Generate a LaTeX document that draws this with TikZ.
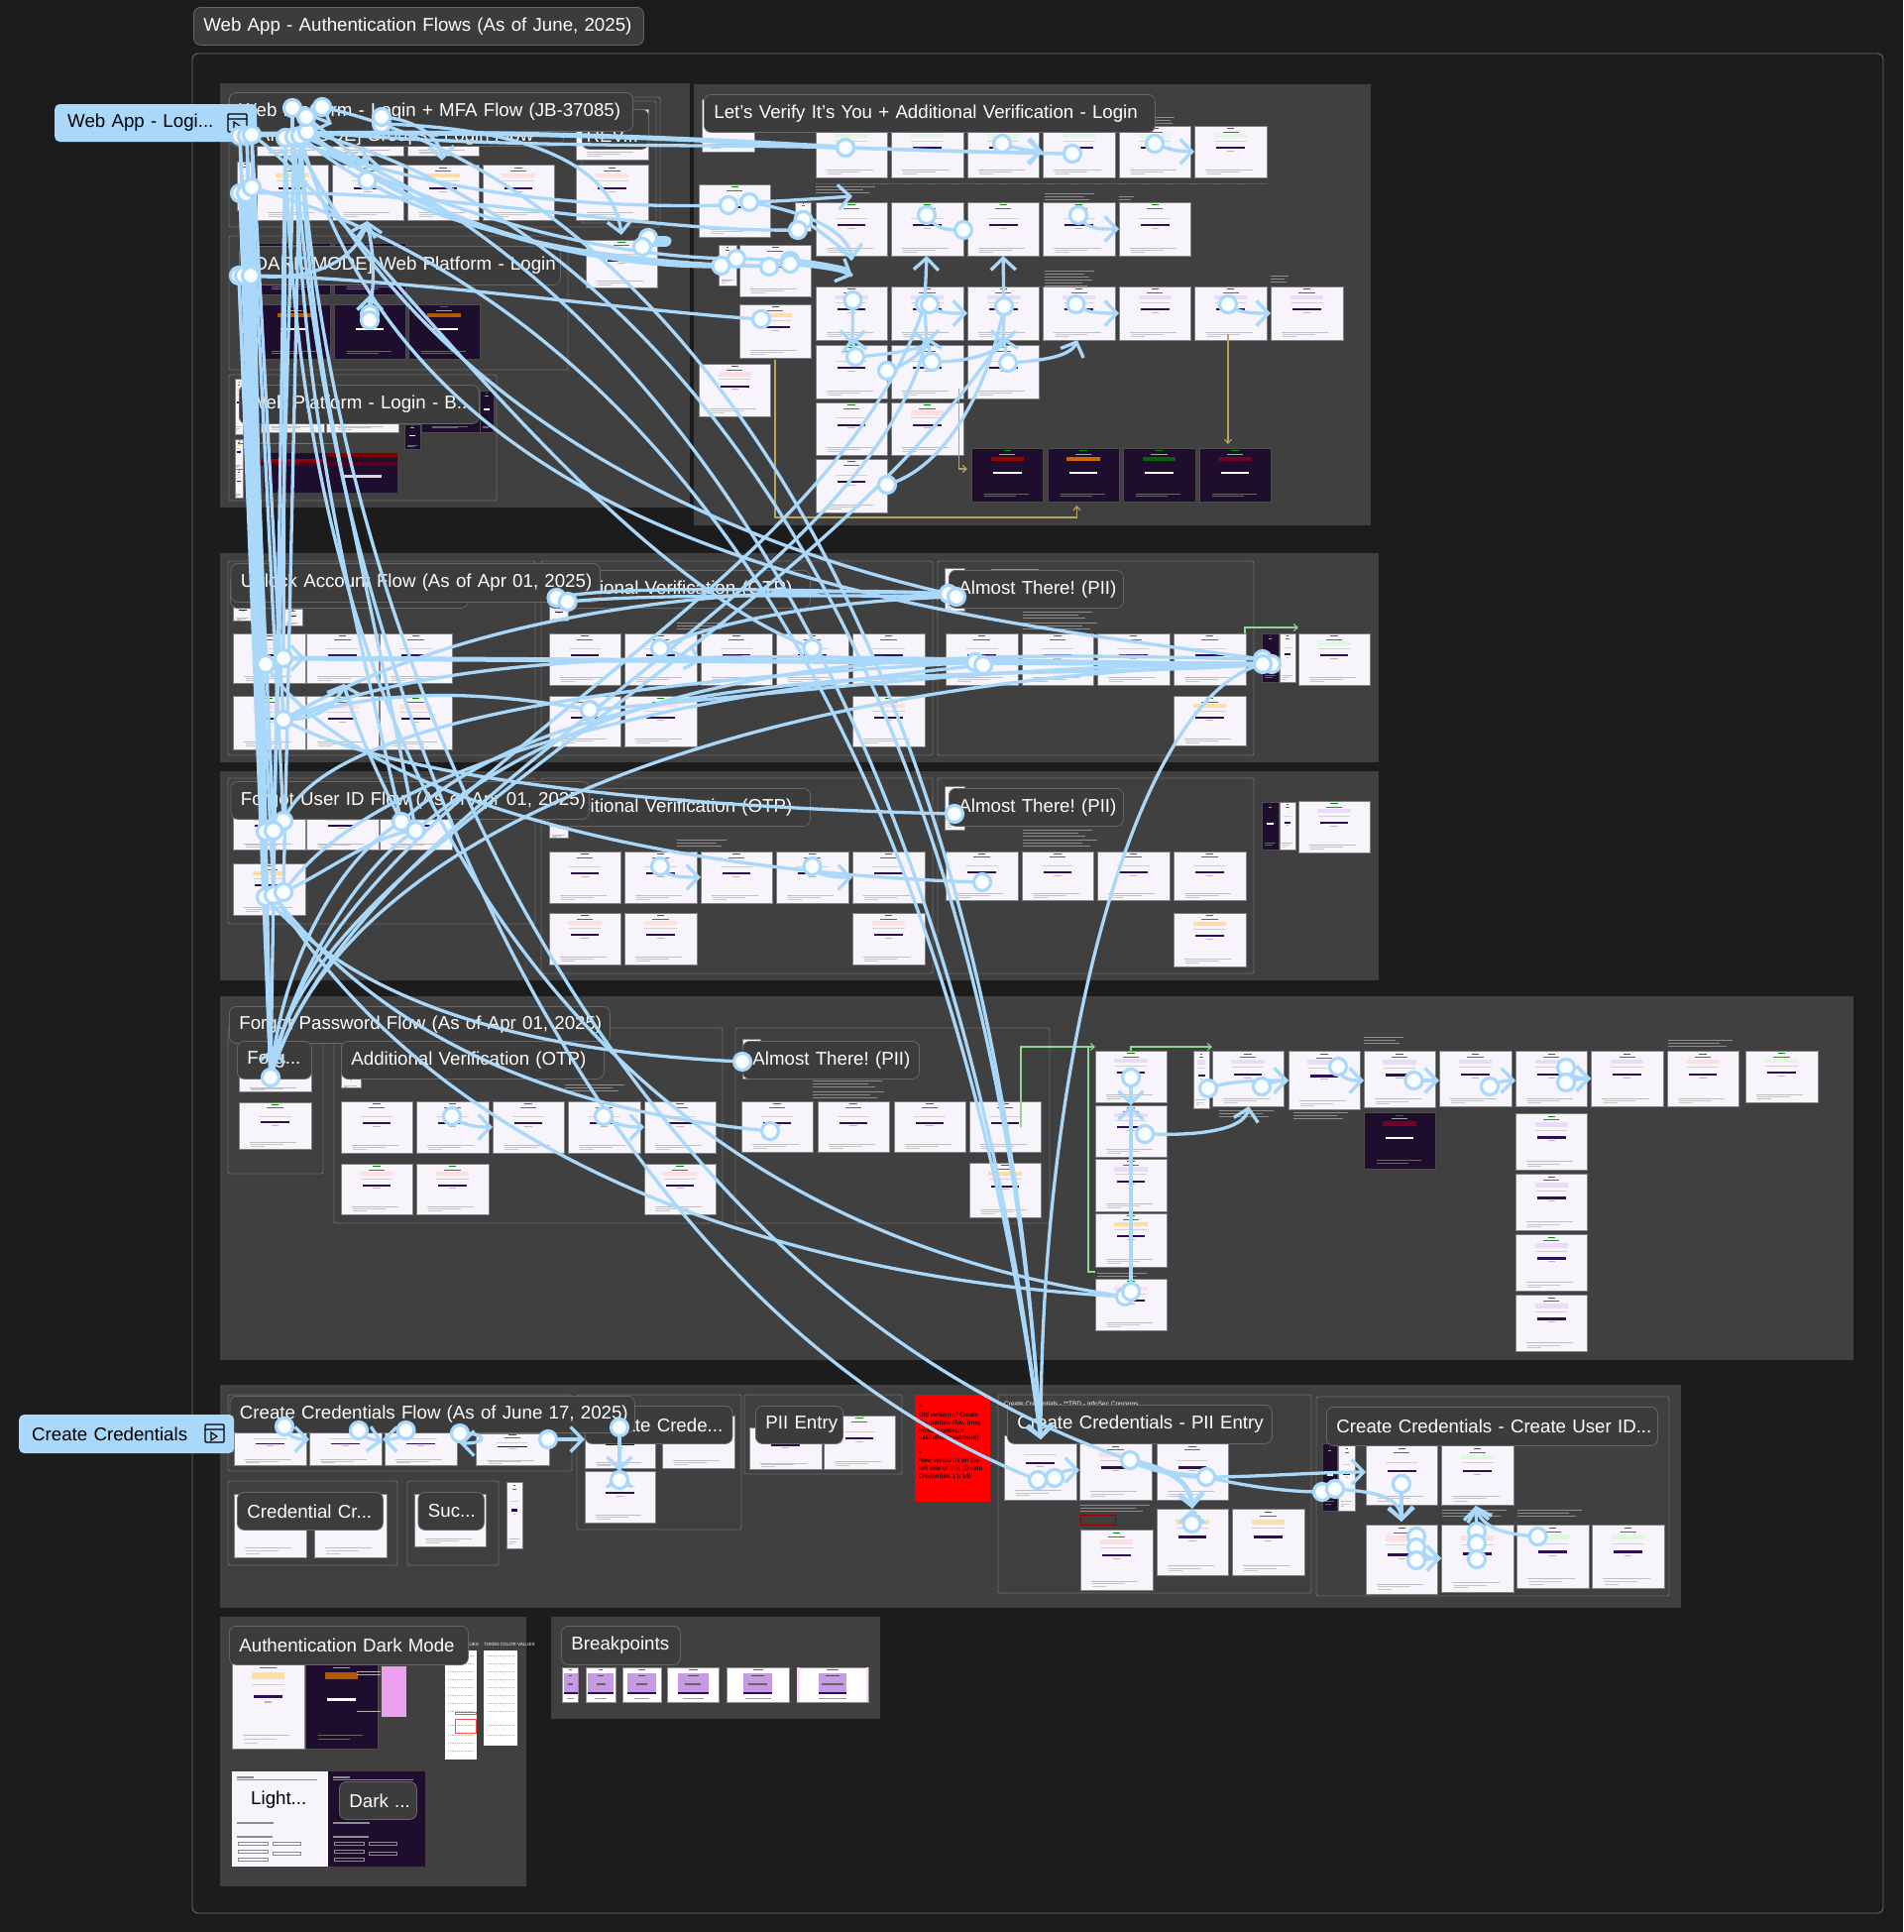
\documentclass[tikz,border=0pt]{standalone}
\usepackage{fontspec}
\setmainfont{Liberation Sans}
\newfontfamily\notefont{Carlito}
\usetikzlibrary{arrows.meta}
\frenchspacing
\definecolor{bg}{HTML}{1C1C1C}
\definecolor{sec}{HTML}{404040}
\definecolor{frm}{HTML}{6A6A6A}
\definecolor{labf}{HTML}{3C3C3C}
\definecolor{lbl}{HTML}{A9D8FA}
\definecolor{scf}{HTML}{F7F4FB}
\definecolor{pbar}{HTML}{2C0F4F}
\definecolor{dscf}{HTML}{1F0D2E}
\definecolor{grn}{HTML}{8FD694}
\definecolor{gld}{HTML}{B8A45E}
\definecolor{bnO}{HTML}{FFDDA8}
\definecolor{bnG}{HTML}{E2F7E2}
\definecolor{bnR}{HTML}{FFDEDE}
\definecolor{bnP}{HTML}{E9DCF9}
\definecolor{bpurple}{HTML}{C79BE3}
\definecolor{pink}{HTML}{EBA0F0}
\tikzset{
  section/.style={fill=sec,draw=none},
  frameline/.style={draw=frm,line width=.9pt,rounded corners=2pt},
  labelbox/.style={fill=labf,draw=white!22!labf,line width=.8pt,rounded corners=7pt,text=white,inner xsep=10pt,inner ysep=0pt,align=left,font=\fontsize{18.7}{22}\selectfont},
  tabnode/.style={fill=lbl,rounded corners=5pt,text=black,anchor=west,inner xsep=0pt,inner ysep=0pt,font=\fontsize{18.7}{22}\selectfont},
  link/.style={draw=lbl,line width=3.3pt},
  thick link/.style={draw=lbl,line width=5pt},
  arw/.style={-{Straight Barb[length=12pt,width=25pt]}},
  hand/.style={circle,fill=white!94!lbl,draw=lbl,line width=3.2pt,minimum size=17pt,inner sep=0pt},
  thin arrow/.style={line width=1.1pt,-{Straight Barb[length=4pt,width=7pt]}},
  annot/.style={draw=white!55!black,line width=.5pt},
}
\makeatletter
\def\dotlist{}
\newcommand\hd[3]{\coordinate (#1) at (#2,#3);\g@addto@macro\dotlist{\node[hand] (d#1) at (#1) {};}}
\makeatother
\newcommand\tg[3]{\coordinate (#1) at (#2,#3);}
\newcommand\lk[4][]{\draw[link,#1] (#2) .. controls #3 .. (#4);}
\newcommand\ls[3][]{\draw[link,#1] (#2) -- (#3);}
% light screen: [banner]{x1}{y1}{x2}{y2}
\newcommand\scr[5][scf]{%
  \pgfmathsetmacro\scW{#4-#2}\pgfmathsetmacro\scH{#5-#3}%
  \begin{scope}[shift={(#2,#3)},x=\scW pt,y=-\scH pt]
    \fill[scf] (0,0) rectangle (1,1);
    \draw[black!50,line width=.5pt] (0,0) rectangle (1,1);
    \fill[green!55!black] (.45,.045) rectangle (.55,.058);
    \fill[black!60] (.39,.11) rectangle (.61,.122);
    \fill[#1] (.27,.16) rectangle (.73,.24);
    \fill[black!18] (.28,.29) rectangle (.72,.305);
    \fill[pbar] (.3,.41) rectangle (.7,.45);
    \fill[black!28] (.45,.48) rectangle (.55,.495);
    \fill[black!25] (.15,.85) rectangle (.8,.86);
    \fill[black!22] (.17,.89) rectangle (.62,.90);
    \fill[black!22] (.17,.93) rectangle (.36,.94);
  \end{scope}}
\newcommand\dsc[5][dscf]{%
  \pgfmathsetmacro\scW{#4-#2}\pgfmathsetmacro\scH{#5-#3}%
  \begin{scope}[shift={(#2,#3)},x=\scW pt,y=-\scH pt]
    \fill[dscf] (0,0) rectangle (1,1);
    \draw[black!70,line width=.5pt] (0,0) rectangle (1,1);
    \fill[green!60!black] (.45,.045) rectangle (.55,.06);
    \fill[white!65!black] (.39,.11) rectangle (.61,.122);
    \fill[#1] (.27,.16) rectangle (.73,.24);
    \fill[white] (.3,.44) rectangle (.7,.48);
    \fill[black!60] (.18,.85) rectangle (.8,.86);
    \fill[black!60] (.18,.89) rectangle (.62,.90);
  \end{scope}}
% breakpoint screen: [inner left margin]{x1}{y1}{x2}{y2}
\newcommand\bps[5][.07]{%
  \pgfmathsetmacro\scW{#4-#2}\pgfmathsetmacro\scH{#5-#3}\pgfmathsetmacro\bpR{1-#1}%
  \begin{scope}[shift={(#2,#3)},x=\scW pt,y=-\scH pt]
    \fill[white] (0,0) rectangle (1,1);
    \draw[black!45,line width=.5pt] (0,0) rectangle (1,1);
    \fill[black!65] (.42,.06) rectangle (.58,.09);
    \fill[bpurple] (#1,.18) rectangle (\bpR,.76);
    \fill[black!70] (.4,.22) rectangle (.6,.25);
    \fill[black!60] (.35,.46) rectangle (.65,.52);
    \fill[pbar] (#1,.72) rectangle (\bpR,.78);
    \fill[black!40] (.3,.88) rectangle (.7,.91);
  \end{scope}}
\newcommand\lab[6]{\pgfmathsetmacro\lbW{#4-#2}\pgfmathsetmacro\lbH{#5-#3}\pgfmathsetmacro\lbT{#4-#2-20}%
  \node[labelbox,minimum height=\lbH pt,text width=\lbT pt,anchor=north west] (#1) at (#2,#3) {\raisebox{-3pt}{\mbox{#6}}};}
\newcommand\frm[4]{\draw[frameline] (#1,#2) rectangle (#3,#4);}
\newcommand\ann[3]{\draw[annot] (#1,#2) -- ++(#3,0); \draw[annot] (#1,#2+3) -- ++(#3*.8,0); \draw[annot] (#1,#2+6) -- ++(#3*.9,0);}
\begin{document}
\begin{tikzpicture}[x=1pt,y=-1pt]
\useasboundingbox (0,0) rectangle (1920,1949);
\fill[bg] (0,0) rectangle (1920,1949);
% outer board
\draw[frm,line width=.9pt,rounded corners=6pt] (194,54) rectangle (1900,1930);
\lab{ltitle}{195}{7}{649}{45}{Web App - Authentication Flows (As of June, 2025)}
% sections
\fill[section] (222,84) rectangle (696,512);
\fill[section] (700,85) rectangle (1383,530);
\fill[section] (222,558) rectangle (1391,769);
\fill[section] (222,778) rectangle (1391,989);
\fill[section] (222,1005) rectangle (1870,1372);
\fill[section] (222,1397) rectangle (1696,1622);
\fill[section] (222,1631) rectangle (531,1903);
\fill[section] (556,1631) rectangle (888,1734);
% frames
\frm{231}{98}{666}{229}\frm{587}{102}{662}{225}
\frm{231}{238}{573}{373}\frm{231}{378}{501}{505}
\frm{230}{566}{540}{762}\frm{546}{566}{941}{762}\frm{946}{566}{1265}{762}
\frm{230}{785}{540}{932}\frm{546}{785}{941}{982}\frm{946}{785}{1265}{982}
\frm{230}{1037}{326}{1184}\frm{337}{1037}{729}{1234}\frm{742}{1037}{1059}{1234}
\frm{230}{1407}{577}{1484}\frm{582}{1407}{748}{1543}\frm{751}{1407}{910}{1487}
\frm{230}{1494}{401}{1579}\frm{411}{1494}{503}{1579}
\frm{1007}{1407}{1323}{1607}\frm{1328}{1409}{1684}{1610}
% section A screens
\foreach \a/\b in {259/331,335/407,411/483}{\scr{\a}{120}{\b}{157}}
\scr{239}{163}{255}{212}
\scr[bnO]{259}{166}{331}{222}\scr[bnR]{335}{166}{407}{222}\scr[bnO]{411}{166}{483}{222}\scr[bnR]{487}{166}{559}{222}\scr[bnR]{581}{166}{654}{222}
\scr{581}{110}{654}{161}\scr{591}{242}{663}{290}
\foreach \a/\b in {261/333,337/409}{\dsc{\a}{245}{\b}{297}}
\dsc[orange!70!black]{261}{307}{333}{362}\dsc{337}{307}{409}{362}\dsc[orange!70!black]{412}{307}{484}{362}
\scr[bnO]{237}{382}{245}{438}\scr[bnO]{237}{443}{245}{473}\scr[bnP]{237}{473}{245}{502}
\scr{263}{395}{327}{436}\scr{329}{395}{402}{436}
\dsc{425}{395}{484}{436}\dsc{484}{394}{498}{436}\dsc{408}{428}{424}{453}
\fill[dscf] (266,457) rectangle (401,497);
\fill[red!50!black] (330,457) rectangle (401,461);
\fill[red!60!black] (262,463) rectangle (330,466);
\fill[purple!45!black] (262,466) rectangle (401,470);
\fill[white!85!black] (345,479) rectangle (385,482);
\draw[black!55,line width=.6pt] (240,447) -- (337,447);
% section B screens
\scr{708}{100}{761}{153}
\foreach \a/\b in {823/895,899/972,976/1048.5,1052.5/1125,1129/1201.6,1205.6/1278}{\scr[bnG]{\a}{127}{\b}{179}}
\foreach \a/\b in {823/895,899/972,976/1048.5,1052.5/1125,1129/1201.6}{\scr{\a}{204}{\b}{258}}
\foreach \a/\b in {823/895,899/972,976/1048.5,1052.5/1125,1129/1201.6,1205.6/1278,1282/1355}{\scr[bnP]{\a}{289}{\b}{343}}
\foreach \a/\b in {823/895,899/972,976/1048.5}{\scr{\a}{348}{\b}{402}}
\scr{823}{406}{895}{459}\scr[bnR]{899}{406}{972}{459}\scr{823}{463}{895}{517}
\dsc[red!60!black]{980}{452}{1052.5}{506}\dsc[orange!80!black]{1057}{452}{1129}{506}\dsc[green!40!black]{1133}{452}{1206}{506}\dsc[purple!60!black]{1210}{452}{1282}{506}
\scr{705}{186}{777.5}{239}\scr{802.5}{204}{818.6}{233}\scr{725}{247}{743.6}{288}\scr{746}{247}{818.6}{299}
\scr[bnO]{746}{307}{818.6}{361}\scr[bnR]{705}{367}{777.5}{420}
\draw[frm,line width=.5pt,densely dotted] (823,185) -- (1278,185);
\ann{823}{188}{60}\ann{1054}{195}{50}\ann{1129}{198}{15}\ann{1054}{273}{50}\ann{1054}{282}{48}\ann{1282}{278}{18}\ann{1165}{118}{20}
% gold lines
\draw[gld,thin arrow] (782,363) -- (782,522) -- (1086.4,522) -- (1086.4,510);
\draw[gld,thin arrow] (967.7,392) -- (967.7,473) -- (976,473);
\draw[gld,thin arrow] (1239,337) -- (1239,448);
% section C
\foreach \a/\b in {235.6/308,309/382,383/456}{\scr{\a}{639}{\b}{689}\scr[bnR]{\a}{702}{\b}{756}}
\scr{235.6}{607}{255}{626}\scr{286}{614}{305}{631}\scr{554}{610}{573.6}{626}
\foreach \a/\b in {554/626,630/703,707/779,783/856,860/933}{\scr{\a}{639}{\b}{691}}
\foreach \a/\b in {554/626,630/703,860/933}{\scr[bnR]{\a}{702}{\b}{753}}
\scr{953}{573}{973}{616}
\foreach \a/\b in {954/1027,1031/1103,1107/1180,1184/1257}{\scr{\a}{639}{\b}{691}}
\scr[bnO]{1184}{702}{1257}{752}
\dsc{1273}{639}{1290}{688}\scr{1291}{639}{1307}{688}\scr[bnG]{1310}{639}{1382}{691}
\ann{1032}{617}{70}\ann{1032}{628}{75}\ann{1000}{574}{48}
\ann{683}{628}{50}
\draw[grn,thin arrow] (1256,639) -- (1256,633) -- (1310,633);
% section D
\foreach \a/\b in {235.6/308,309/382,383/456}{\scr{\a}{815}{\b}{857}}
\scr[bnO]{235.6}{871}{308}{923}
\foreach \a/\b in {554/626,630/703,707/779,783/856,860/933}{\scr{\a}{859}{\b}{911}}
\foreach \a/\b in {554/626,630/703,860/933}{\scr[bnR]{\a}{921}{\b}{973}}
\scr{554}{825}{573.6}{845}\scr{953}{793}{973}{837}
\foreach \a/\b in {954/1027,1031/1103,1107/1180,1184/1257}{\scr{\a}{859}{\b}{908}}
\scr[bnO]{1184}{921}{1257}{975}
\dsc{1273}{809}{1290}{857}\scr{1291}{809}{1307}{857}\scr[bnP]{1310}{808}{1382}{860}
\ann{1032}{837}{70}\ann{1032}{847}{75}\ann{683}{847}{50}
% section E
\scr{241}{1075}{314}{1101}\scr{241}{1112}{314}{1159}\scr{344}{1081}{364}{1097}\scr{749}{1048}{767}{1088}
\foreach \a/\b in {344/416,420/493,497/569,573/646,650/722}{\scr{\a}{1111}{\b}{1163}}
\foreach \a/\b in {344/416,420/493,650/722}{\scr[bnR]{\a}{1174}{\b}{1225}}
\foreach \a/\b in {748/820,825/897,902/974,978/1050}{\scr{\a}{1111}{\b}{1162}}
\scr[bnO]{978}{1173}{1050}{1228}
\ann{570}{1094}{60}\ann{820}{1090}{70}\ann{820}{1101}{72}
\scr[bnP]{1105}{1060}{1177}{1112}\scr[bnP]{1105}{1115}{1177}{1167}\scr[bnP]{1105}{1169}{1177}{1222}\scr[bnO]{1105}{1224}{1177}{1278}\scr[bnR]{1105}{1290}{1177}{1342}
\scr[bnP]{1204}{1060}{1220.5}{1118}\scr[bnP]{1223}{1060}{1295}{1116}\scr[bnP]{1300}{1060}{1372}{1119}\scr[bnP]{1376}{1060}{1448}{1117}
\dsc[purple!60!black]{1376}{1122}{1448}{1179}
\foreach \a/\b in {1452/1525,1529/1601.6,1605.5/1678}{\scr[bnP]{\a}{1060}{\b}{1116}}
\scr[bnR]{1682}{1060}{1754}{1116}\scr[bnG]{1761}{1060}{1834}{1112}
\foreach \a/\b in {1123/1180,1184/1241,1245/1302,1306/1363}{\scr[bnP]{1529}{\a}{1601.6}{\b}}
\ann{1230}{1120}{55}\ann{1305}{1122}{55}\ann{1376}{1046}{40}\ann{1683}{1049}{65}\ann{1107}{1284}{50}
\draw[grn,thin arrow] (1030,1137) -- (1030,1056) -- (1105,1056);
\draw[grn,line width=1.1pt] (1098,1056) -- (1098,1283) -- (1105,1283);
\draw[grn,thin arrow] (1141,1060) -- (1141,1056) -- (1223,1056);
% section F
\foreach \a/\b in {236/309,312/385,388/461}{\scr{\a}{1440}{\b}{1478}}
\scr{480}{1446}{554}{1478}
\scr{590}{1440}{661}{1481}\scr{668}{1428}{741}{1481}\scr{590}{1484}{661}{1536}
\scr{756}{1440}{829}{1482}\scr{831}{1428}{903}{1482}
\scr{236}{1507}{309}{1571}\scr{317}{1507}{390}{1571}\scr{418}{1507}{490}{1560}
\scr{511}{1495}{527}{1562}
\fill[red] (922.5,1407) rectangle (998.5,1515);
\foreach \t/\yy in {{>}/1419,{Old version of Create}/1427,{Credentials Flow (may}/1435,{include relevant}/1443,{validation treatment)}/1450,{<}/1466,{New version is on the}/1473,{left side of this (Create}/1481,{Credentials 11/14)}/1489}{
  \node[anchor=west,inner sep=0pt,text=black,font=\notefont\fontsize{7}{8}\selectfont] (rn\yy) at (927,\yy) {\t};}
% create creds PII
\node[anchor=west,inner sep=0pt,text=white,font=\fontsize{6.5}{8}\selectfont] (tbd) at (1013,1416) {Create Credentials - **TBD - InfoSec Concerns};
\scr{1013}{1448}{1086}{1513}\scr[bnR]{1089}{1456}{1162}{1513}\scr{1167}{1456}{1239}{1513}
\scr[bnO]{1167}{1522}{1239}{1589}\scr[bnO]{1243}{1522}{1316}{1589}\scr[bnR]{1090}{1543}{1163}{1604}
\ann{1090}{1518}{70}
\draw[red!60!black,line width=.5pt] (1090,1528) rectangle (1125,1538);
\dsc{1334}{1456}{1349}{1524}\scr{1350.5}{1458}{1367}{1524}\scr{1378}{1458}{1450.5}{1518}\scr[bnG]{1454.6}{1458}{1527}{1518}
\scr[bnR]{1378}{1538}{1450.5}{1608}\scr[bnR]{1454.6}{1538}{1527}{1606}\scr[bnG]{1530.6}{1538}{1603}{1602}\scr[bnG]{1606.6}{1538}{1679}{1602}
\ann{1455}{1523}{65}\ann{1531}{1523}{65}
% section G
\scr[bnO]{234}{1672}{307}{1764}\dsc[orange!70!black]{308}{1672}{381}{1764}
\fill[pink] (384.5,1681) rectangle (409.6,1732);
\draw[white!70!black,line width=.9pt] (360,1686) -- (384,1686);\draw[white!70!black,line width=.9pt] (360,1689) -- (384,1689);\draw[white!70!black,line width=.9pt] (360,1726) -- (384,1726);
\fill[white] (449,1665) rectangle (480.5,1775);
\fill[white] (488,1665) rectangle (522,1761);
\foreach \yy in {1670,1678,1686,1694,1702,1710,1718,1726,1740,1750,1758,1766}{\draw[black!30,line width=.8pt,densely dotted] (452,\yy) -- (478,\yy);}
\foreach \yy in {1670,1678,1686,1694,1702,1710,1718,1726,1740,1750}{\draw[black!30,line width=.8pt,densely dotted] (491,\yy) -- (519,\yy);}
\draw[red!70,line width=.7pt] (459,1727) rectangle (480.5,1729.5);
\draw[red!70,line width=.7pt] (459,1734) rectangle (480.5,1748);
\node[anchor=east,inner sep=0pt,text=white,font=\fontsize{4.5}{5}\selectfont] (tv1) at (483,1659) {VALUES};
\node[anchor=west,inner sep=0pt,text=white,font=\fontsize{4.5}{5}\selectfont] (tv2) at (488,1659) {TOKEN COLOR VALUES};
\fill[scf] (234,1787) rectangle (331.4,1883);
\fill[dscf] (331.4,1787) rectangle (429,1883);
\foreach \o/\cc in {0/black!45,97.4/white!55!black}{
  \begin{scope}[xshift=\o pt]
  \fill[\cc] (239,1792) rectangle (256,1793.5);\fill[\cc] (239,1795) rectangle (320,1795.6);
  \fill[\cc] (239,1838) rectangle (276,1839.5);\fill[\cc] (239,1852) rectangle (275,1853.5);
  \draw[\cc,line width=.5pt] (240,1858) rectangle (270,1861);\draw[\cc,line width=.5pt] (240,1866) rectangle (270,1869);\draw[\cc,line width=.5pt] (240,1874) rectangle (270,1877);
  \draw[\cc,line width=.5pt] (275,1858) rectangle (303,1861);\draw[\cc,line width=.5pt] (275,1868) rectangle (303,1871);
  \end{scope}}
% breakpoints
\bps{567.6}{1682}{583.7}{1717}\bps{591}{1682}{621}{1717}\bps[.13]{628}{1682}{667}{1717}\bps[.2]{673}{1682}{725.6}{1717}\bps[.27]{733}{1682}{796.6}{1717}\bps[.3]{804}{1682}{876}{1717}
\fill[white!60!pink] (804,1682) rectangle (806.5,1717);
\fill[white!60!pink] (873.5,1682) rectangle (876,1717);
% labels
\lab{lmfa3}{587}{110}{654}{150}{}
\node[anchor=west,inner sep=0pt,text=white,font=\fontsize{18.7}{22}\selectfont] (lmfat) at (580,137) {- REV...};
\lab{lmfa2}{231}{118}{568}{147}{}
\node[anchor=west,inner sep=0pt,text=white,font=\fontsize{18.7}{22}\selectfont] (lmfas) at (241,138) {[DARK MODE] Groups - Login Flow};
\lab{lmfa}{231}{93}{638}{132}{Web Platform - Login + MFA Flow (JB-37085)}
\lab{ldark}{241}{248}{565}{287}{[DARK MODE] Web Platform - Login}
\lab{lback}{241}{388}{483}{427}{Web Platform - Login - B...}
\lab{lverify}{710}{95}{1165}{133}{Let's Verify It's You + Additional Verification - Login}
\lab{lub}{232}{580}{472}{613}{}
\lab{lotp}{552}{575}{817}{613}{Additional Verification (OTP)}
\lab{lunlock}{232.5}{568}{605}{607}{Unlock Account Flow (As of Apr 01, 2025)}
\lab{lpii}{957}{575}{1133}{613}{Almost There! (PII)}
\lab{lotpb}{552}{795}{817}{833}{Additional Verification (OTP)}
\lab{lfid}{232.5}{788}{594}{826}{Forgot User ID Flow (As of Apr 01, 2025)}
\lab{lpiib}{957}{795}{1133}{833}{Almost There! (PII)}
\lab{lfpw}{231}{1015}{615}{1052}{Forgot Password Flow (As of Apr 01, 2025)}
\lab{lforg}{239}{1050}{314}{1088}{Forg...}
\lab{lotpc}{344}{1050}{609}{1088}{Additional Verification (OTP)}
\lab{lpiic}{749}{1050}{927}{1088}{Almost There! (PII)}
\lab{lcrede}{590}{1418}{738.5}{1456}{Create Crede...}
\lab{lpe}{762}{1418}{850}{1456}{PII Entry}
\lab{lccf}{231.5}{1408}{640}{1445}{Create Credentials Flow (As of June 17, 2025)}
\lab{lcr}{239}{1505}{386}{1543}{Credential Cr...}
\lab{lsuc}{421.5}{1505}{488}{1543}{Suc...}
\lab{lcpii}{1016}{1417}{1283}{1456}{Create Credentials - PII Entry}
\lab{lcuid}{1338}{1419}{1672}{1458}{Create Credentials - Create User ID...}
\lab{lauth}{231}{1640}{472}{1679}{Authentication Dark Mode}
\lab{lbp}{566}{1640}{686}{1679}{Breakpoints}
\node[text=black,anchor=west,inner sep=0pt,font=\fontsize{18.7}{22}\selectfont] (llight) at (253,1816) {Light...};
\lab{ldm}{342}{1797}{420}{1835}{Dark ...}
% tabs
\node[tabnode,minimum width=204pt,minimum height=38pt,text width=204pt] (tabA) at (55,124) {\hspace*{13pt}\raisebox{-2.5pt}{Web App - Logi...}};
\node[tabnode,minimum width=217pt,minimum height=39pt,text width=217pt] (tabB) at (19,1446.5) {\hspace*{13pt}\raisebox{-.5pt}{Create Credentials}};
\draw[black,line width=1.3pt,rounded corners=1pt] (230,115) rectangle (249,133) (230,120) -- (249,120);
\draw[black,line width=1.3pt,rounded corners=1pt] (207,1437) rectangle (226,1455) (207,1442) -- (226,1442);
\draw[black,line width=1.1pt] (236,123) -- (242,127) -- (236,131) -- cycle;
\draw[black,line width=1.1pt] (213,1445) -- (219,1449) -- (213,1453) -- cycle;
% handles
\hd{aA}{242}{137}\hd{aB}{249}{137}\hd{aC}{254}{136}\hd{aD}{288}{139}\hd{aE}{297}{138}\hd{aF}{303}{137}\hd{aG}{310}{133}
\hd{aH}{295}{109}\hd{aI}{325}{108}\hd{aJ}{309}{118}\hd{aK}{385}{125}\hd{aL}{385}{118}
\hd{bA}{242}{195}\hd{bB}{248}{195}\hd{bC}{254}{189}\hd{bD}{370.5}{182}
\hd{cA}{241}{278}\hd{cB}{246}{278}\hd{cC}{253}{278}\hd{cD}{373}{317}\hd{cE}{373}{323}
\hd{eA}{654}{240}\hd{eB}{648}{249}
\hd{rA}{853}{149}\hd{rB}{1011}{145}\hd{rC}{1082}{155}\hd{rD}{1165}{145}
\hd{sA}{735}{207}\hd{sB}{756}{204}\hd{sC}{810.5}{222}\hd{sD}{805}{232}
\hd{uA}{727.5}{268}\hd{uB}{743}{261}\hd{uC}{776}{269}\hd{uD}{797}{263}\hd{uE}{797}{266}\hd{uF}{768}{322}
\hd{vA}{860.5}{303}\hd{vB}{933}{307}\hd{vC}{938}{307}\hd{vD}{1013}{309}\hd{vE}{1085.5}{307}\hd{vF}{1239}{307}
\hd{wA}{935}{217}\hd{wB}{972}{232}\hd{wC}{1088}{217}
\hd{xA}{863}{360}\hd{xB}{940}{365}\hd{xC}{1017}{366}\hd{xD}{895}{374}\hd{xE}{895}{489}
\hd{gA}{561.5}{603}\hd{gB}{572.7}{607}\hd{gC}{268}{670}\hd{gD}{286}{664}\hd{gE}{286}{726}\hd{gF}{666}{654}\hd{gG}{819.5}{654}\hd{gH}{595}{716}
\hd{hA}{268}{839}\hd{hB}{286}{828}\hd{hC}{276}{838}\hd{hD}{405}{829}\hd{hE}{419.5}{838}\hd{hF}{268}{905}\hd{hG}{276}{903}\hd{hH}{286}{900}\hd{hI}{666}{874}\hd{hJ}{819.5}{874}
\hd{iA}{957}{599}\hd{iB}{965}{602}\hd{iC}{984}{668}\hd{iD}{992}{671}\hd{iE}{1274}{665}\hd{iF}{1283}{670}\hd{iG}{1274}{670}\hd{iH}{963}{821}\hd{iI}{991}{890}
\hd{fA}{273}{1087}\hd{fB}{749}{1071}\hd{fC}{777}{1141}\hd{fD}{456}{1126}\hd{fE}{609}{1126}
\hd{jA}{1141}{1087}\hd{jB}{1155}{1144}\hd{jC}{1219}{1098}\hd{jD}{1273}{1096}\hd{jE}{1350}{1076}\hd{jF}{1426.5}{1090}\hd{jG}{1503}{1096}\hd{jH}{1580}{1077}\hd{jI}{1580}{1092}\hd{jJ}{1135}{1308}\hd{jK}{1141}{1303}
\hd{kA}{287}{1439}\hd{kB}{362}{1443}\hd{kC}{409.5}{1443}\hd{kD}{464}{1446}\hd{kE}{553}{1452}\hd{kF}{625}{1440}\hd{kG}{625}{1493}
\hd{mA}{1047}{1493}\hd{mB}{1064}{1491}\hd{mC}{1140}{1473}\hd{mD}{1217}{1490}\hd{mE}{1202.5}{1537}
\hd{nA}{1414}{1497}\hd{nB}{1334}{1505}\hd{nC}{1347}{1502}\hd{nD}{1429}{1550}\hd{nE}{1429}{1561}\hd{nF}{1429}{1574}\hd{nG}{1490}{1545}\hd{nH}{1490}{1557}\hd{nI}{1490}{1573}\hd{nJ}{1551.5}{1550}
% arrow targets
\tg{tRa}{1052}{153}\tg{tRb}{1205}{153}\tg{tSa}{860}{198}\tg{tSb}{860}{262}\tg{tSc}{860}{278}\tg{tWa}{1129}{231}
\tg{tUa}{935}{258}\tg{tUb}{1012}{258}\tg{tVa}{976}{316}\tg{tVb}{1129}{316}\tg{tVc}{1282}{316}
\tg{tXa}{860}{348}\tg{tXb}{860}{340}\tg{tXc}{935}{348}\tg{tXd}{935}{340}\tg{tXe}{1012}{348}\tg{tXf}{1012}{340}\tg{tXg}{1087}{343}
\tg{tAa}{370}{167}\tg{tAb}{370}{155}\tg{tAc}{446}{162}\tg{tAd}{627}{237}\tg{tAe}{370.5}{223}\tg{tAf}{373}{298}\tg{tAg}{295}{165}\tg{tAh}{335}{125}\tg{tAi}{295}{150}
\tg{tGa}{308}{664}\tg{tGb}{287}{664}\tg{tGc}{707}{667}\tg{tGd}{347}{690}\tg{tGe}{860}{885}\tg{tGf}{707}{885}
\tg{tFa}{276}{1057}\tg{tFb}{497}{1137}\tg{tFc}{650}{1137}
\tg{tCa}{1050}{1452}\tg{tCb}{1089}{1483}\tg{tCc}{1203}{1522}\tg{tCd}{1203}{1553}\tg{tCe}{1378}{1485}\tg{tCf}{1414}{1535}\tg{tCg}{1454}{1572}\tg{tCh}{1489}{1519}
\tg{tJa}{1141}{1115}\tg{tJb}{1260}{1116}\tg{tJc}{1300}{1090}\tg{tJd}{1376}{1090}\tg{tJe}{1452}{1090}\tg{tJf}{1529}{1090}\tg{tJg}{1605}{1088}\tg{tJh}{1141}{1117}
\tg{tKa}{312}{1452}\tg{tKb}{386}{1454}\tg{tKc}{386}{1452}\tg{tKd}{464}{1456}\tg{tKe}{590}{1452}\tg{tKf}{625}{1484}\tg{tKg}{625}{1486}
\tg{tBk}{672}{243}\tg{tBl}{651}{243}
% vertical bundle
\foreach \s in {aA,aB,aC,bA,bB,bC,cA,cB,cC}{\ls{\s}{fA}}
\ls{aD}{fA}\ls{aE}{hC}\ls{aF}{hH}\ls{aA}{gC}\ls{aB}{gC}\ls{bA}{hA}\ls{bB}{hC}\ls{cA}{hF}\ls{cB}{hG}\ls{bC}{hB}\ls{aC}{gE}\ls{aD}{gD}
\lk{aE}{(305,400) and (340,550)}{hD}
\lk{aF}{(315,400) and (355,500)}{hE}
\ls[arw]{fA}{tFa}
% horizontal fan
\draw[thick link] (aC) .. controls (500,130) and (700,140) .. (rA);
\lk{aG}{(500,150) and (700,145)}{rA}
\lk{aD}{(450,200) and (600,210)}{sA}
\lk{bB}{(450,190) and (650,235)}{sD}
\draw[thick link] (aG) .. controls (430,230) and (600,270) .. (uA);
\lk{aE}{(430,210) and (600,260)}{uB}
\lk{cC}{(400,280) and (650,315)}{uF}
\lk{aF}{(420,240) and (620,265)}{uC}
\lk[arw]{aL}{(420,120) and (445,140)}{tAc}
\lk[arw]{aK}{(560,130) and (620,180)}{tAd}
\ls[arw]{aJ}{tAa}\ls[arw]{bD}{tAb}\ls[arw]{aH}{tAg}\ls[arw]{aF}{tAi}\ls[arw]{aH}{tAh}
\lk[arw]{cC}{(320,285) and (360,260)}{tAe}
\lk[arw]{cD}{(380,270) and (375,250)}{tAe}
\ls[arw]{cD}{tAf}\ls[arw]{cE}{tAf}
\draw[lbl,line width=11pt,line cap=round] (tBl) -- (tBk);
% long curves to Create Credentials - PII Entry
\lk[arw]{aI}{(650,180) and (1000,600)}{tCa}
\lk[arw]{aG}{(650,220) and (1000,640)}{tCa}
\lk[arw]{aF}{(650,270) and (960,700)}{tCa}
\lk[arw]{bC}{(640,300) and (950,700)}{tCa}
\lk[arw]{iG}{(1150,700) and (1050,1050)}{tCa}
\lk{aE}{(330,700) and (600,1320)}{mA}
\lk{aF}{(340,700) and (640,1300)}{mC}
\lk{aD}{(300,800) and (600,1230)}{jJ}
\lk{hG}{(450,1180) and (800,1290)}{jJ}
% rows in verify
\lk[arw]{rA}{(900,150) and (1000,155)}{tRa}
\lk{rA}{(950,152) and (1040,155)}{rC}
\lk[arw]{rB}{(1025,150) and (1040,152)}{tRa}
\lk[arw]{rD}{(1175,150) and (1190,153)}{tRb}
\lk[arw]{sB}{(790,203) and (830,200)}{tSa}
\lk[arw]{sB}{(820,215) and (855,235)}{tSb}
\lk{sC}{(830,235) and (850,250)}{tSb}
\lk[arw]{uB}{(790,262) and (830,265)}{tSc}
\draw[thick link] (uD) .. controls (825,265) and (845,270) .. (855,272);
\lk{uE}{(830,270) and (850,272)}{tSc}
\lk{uA}{(770,268) and (800,268)}{uE}
\lk{wA}{(945,232) and (955,232)}{wB}
\lk[arw]{wC}{(1095,232) and (1110,231)}{tWa}
\ls[arw]{vB}{tUa}\ls[arw]{vD}{tUb}
\lk[arw]{vC}{(945,316) and (955,316)}{tVa}
\lk[arw]{vE}{(1095,316) and (1110,316)}{tVb}
\lk[arw]{vF}{(1248,316) and (1265,316)}{tVc}
\ls[arw]{vA}{tXa}\ls[arw]{xA}{tXb}\ls[arw]{vB}{tXc}\ls[arw]{xB}{tXd}\ls[arw]{vD}{tXe}\ls[arw]{xC}{tXf}
\lk{xA}{(890,358) and (915,355)}{tXc}
\lk{xD}{(910,370) and (925,360)}{tXc}
\lk{xB}{(970,365) and (995,360)}{tXe}
\lk[arw]{xC}{(1050,364) and (1080,360)}{tXg}
\lk{xE}{(960,470) and (1000,380)}{vD}
\lk{fA}{(320,800) and (830,620)}{vB}
\lk{fA}{(360,800) and (880,600)}{tXd}
\lk{fA}{(300,860) and (800,660)}{tXf}
% unlock etc
\draw[thick link] (gD) -- (iG);
\ls[arw]{gD}{tGa}\ls[arw]{gF}{tGc}
\lk{gE}{(500,640) and (800,665)}{iG}
\lk{hB}{(340,700) and (800,680)}{iC}
\lk{hH}{(400,740) and (800,690)}{iD}
\lk{hD}{(600,650) and (1000,690)}{iF}
\lk{hE}{(650,640) and (1000,660)}{iE}
\lk{aC}{(350,200) and (600,570)}{gG}
\lk{aE}{(420,400) and (700,540)}{iA}
\lk{gF}{(720,625) and (850,605)}{iB}
\lk{gA}{(620,590) and (800,595)}{iA}
\lk{gB}{(640,600) and (800,600)}{iB}
\lk{gE}{(500,600) and (800,590)}{iA}
\lk{gE}{(400,690) and (500,700)}{gH}
\lk{gH}{(800,700) and (1000,670)}{iG}
\lk{gE}{(400,790) and (700,815)}{iH}
\lk{gC}{(350,800) and (650,880)}{iI}
\lk{aF}{(420,560) and (900,615)}{iE}
\lk{fA}{(350,820) and (800,680)}{iF}
\lk{iC}{(1050,668) and (1200,668)}{iG}
\lk[arw]{gE}{(310,726) and (335,720)}{tGd}
\lk[arw]{hD}{(370,760) and (355,720)}{tGd}
\lk{fA}{(285,960) and (350,860)}{hD}
\lk{fA}{(300,960) and (380,860)}{hE}
\lk{hH}{(330,880) and (380,840)}{hE}
\lk[arw]{hI}{(670,885) and (690,885)}{tGf}
\lk[arw]{hJ}{(825,885) and (845,885)}{tGe}
\lk{hF}{(350,1000) and (500,1060)}{fB}
\lk{hG}{(380,1040) and (550,1120)}{fC}
\lk[arw]{fD}{(465,1135) and (480,1137)}{tFb}
\lk[arw]{fE}{(618,1135) and (635,1137)}{tFc}
% forgot password right
\ls[arw]{jA}{tJa}\ls[arw]{jK}{tJa}
\lk[arw]{jB}{(1210,1146) and (1255,1140)}{tJb}
\lk[arw]{jC}{(1240,1090) and (1270,1090)}{tJc}
\lk[arw]{jD}{(1280,1092) and (1290,1090)}{tJc}
\lk[arw]{jE}{(1352,1090) and (1365,1090)}{tJd}
\lk[arw]{jF}{(1430,1090) and (1440,1090)}{tJe}
\lk[arw]{jG}{(1508,1092) and (1518,1090)}{tJf}
\lk[arw]{jH}{(1582,1085) and (1592,1088)}{tJg}
\lk[arw]{jI}{(1585,1090) and (1595,1088)}{tJg}
% create
\lk[arw]{kA}{(290,1450) and (300,1452)}{tKa}
\lk[arw]{kB}{(364,1450) and (375,1452)}{tKb}
\lk[arw]{kC}{(408,1450) and (398,1452)}{tKc}
\lk[arw]{kD}{(490,1445) and (495,1456)}{tKd}
\lk[arw]{kE}{(565,1452) and (578,1452)}{tKe}
\ls[arw]{kF}{tKf}\ls[arw]{kG}{tKg}
% pii
\lk[arw]{mB}{(1072,1482) and (1080,1483)}{tCb}
\draw[thick link,arw] (mC) .. controls (1170,1480) and (1200,1490) .. (tCc);
\draw[thick link] (mC) .. controls (1165,1485) and (1190,1488) .. (mD);
\ls[arw]{mE}{tCc}
\lk[arw]{mD}{(1270,1490) and (1330,1485)}{tCe}
\lk{mD}{(1260,1500) and (1300,1505)}{nB}
\lk[arw]{nC}{(1390,1505) and (1412,1510)}{tCf}
\ls[arw]{nA}{tCf}
\lk[arw]{nD}{(1435,1570) and (1440,1572)}{tCg}
\lk[arw]{nF}{(1435,1574) and (1445,1572)}{tCg}
\ls{nD}{nF}\ls{nG}{nI}
\ls[arw]{nG}{tCh}
\lk[arw]{nJ}{(1515,1548) and (1495,1540)}{tCh}
% handles on top
\dotlist
\end{tikzpicture}
\end{document}
